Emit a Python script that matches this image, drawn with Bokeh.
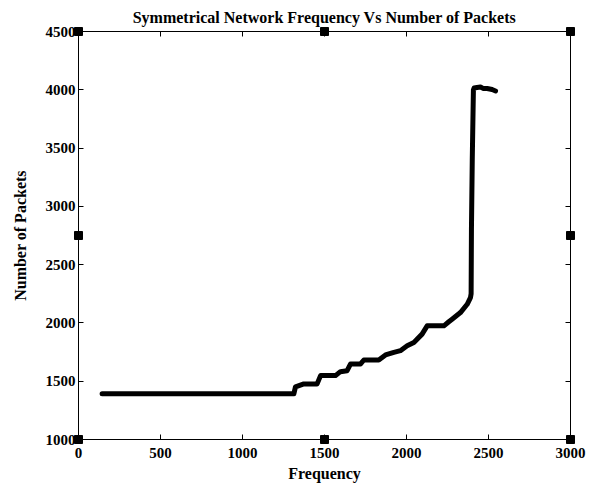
from bokeh.plotting import figure
from bokeh.models import Range1d, LinearAxis, FixedTicker
from bokeh.embed import file_html
from bokeh.resources import INLINE

# Data
frequency = [144, 1313, 1323, 1374, 1455, 1476, 1567, 1597, 1638, 1659, 1720, 1740,
             1831, 1872, 1923, 1963, 2004, 2045, 2095, 2126, 2228, 2258, 2278, 2329,
             2370, 2390, 2394, 2396, 2401, 2408, 2412, 2430, 2451, 2470, 2492, 2522, 2543]
packets = [1392, 1392, 1451, 1477, 1477, 1548, 1548, 1582, 1590, 1648, 1648, 1682,
           1682, 1725, 1748, 1762, 1804, 1833, 1904, 1975, 1975, 2010, 2032, 2089,
           2160, 2217, 2250, 2800, 3400, 4000, 4015, 4020, 4024, 4010, 4011, 4002, 3990]

x_ticks = [0, 500, 1000, 1500, 2000, 2500, 3000]
y_ticks = [1000, 1500, 2000, 2500, 3000, 3500, 4000, 4500]
x_min, x_max = 0, 3000
y_min, y_max = 1000, 4500

FONT = "Liberation Serif"

p = figure(width=586, height=484, output_backend="svg", toolbar_location=None,
           x_range=Range1d(x_min, x_max), y_range=Range1d(y_min, y_max),
           min_border_left=78, min_border_right=16, min_border_top=31, min_border_bottom=43,
           title="Symmetrical Network Frequency Vs Number of Packets")
p.title.text_font = FONT
p.title.text_font_style = "bold"
p.title.text_font_size = "16px"
p.title.align = "center"
p.title.vertical_align = "top"
p.title.text_color = "black"
p.title.standoff = 8

p.xgrid.visible = False
p.ygrid.visible = False
p.outline_line_color = "black"
p.outline_line_width = 1

for ax in (p.xaxis[0], p.yaxis[0]):
    ax.major_tick_in = 5
    ax.major_tick_out = 0
    ax.minor_tick_line_color = None
    ax.axis_line_color = "black"
    ax.major_label_text_font = FONT
    ax.major_label_text_font_style = "bold"
    ax.major_label_text_font_size = "15px"
    ax.major_label_text_color = "black"
    ax.axis_label_text_font = FONT
    ax.axis_label_text_font_style = "bold"
    ax.axis_label_text_font_size = "16px"
    ax.axis_label_text_color = "black"

p.xaxis[0].ticker = FixedTicker(ticks=x_ticks)
p.yaxis[0].ticker = FixedTicker(ticks=y_ticks)
p.xaxis[0].axis_label = "Frequency"
p.yaxis[0].axis_label = "Number of Packets"
p.xaxis[0].major_label_standoff = 8
p.yaxis[0].major_label_standoff = 3
p.xaxis[0].axis_label_standoff = 4
p.yaxis[0].axis_label_standoff = 14

top = LinearAxis(ticker=FixedTicker(ticks=x_ticks),
                 major_label_overrides={t: "" for t in x_ticks},
                 major_tick_in=5, major_tick_out=0, minor_tick_line_color=None,
                 major_label_standoff=0)
right = LinearAxis(ticker=FixedTicker(ticks=y_ticks),
                   major_label_overrides={t: "" for t in y_ticks},
                   major_tick_in=5, major_tick_out=0, minor_tick_line_color=None,
                   major_label_standoff=0)
p.add_layout(top, "above")
p.add_layout(right, "right")

p.line(frequency, packets, line_color="black", line_width=5, line_join="round", line_cap="round")

# selection handles at corners and midpoints of the axes box
hx_mid = (x_min + x_max) / 2
hy_mid = (y_min + y_max) / 2
hx = [x_min, hx_mid, x_max, x_min, x_max, x_min, hx_mid, x_max]
hy = [y_max, y_max, y_max, hy_mid, hy_mid, y_min, y_min, y_min]
r = p.scatter(hx, hy, marker="square", size=8, fill_color="black", line_color="black")
r.level = "overlay"

open("out.html", "w").write(file_html(p, INLINE))
